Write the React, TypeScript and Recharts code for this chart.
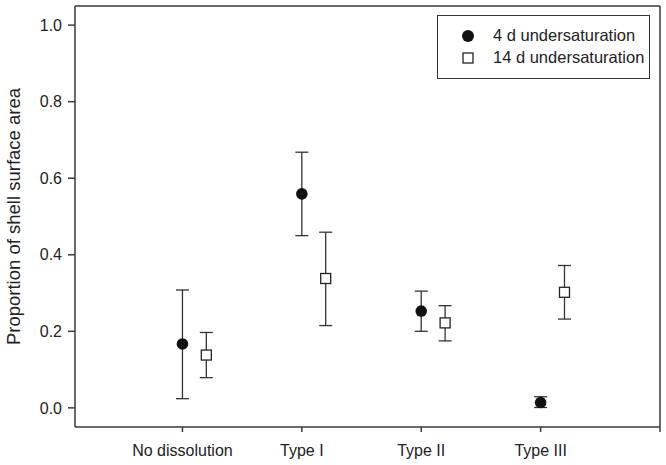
import React from 'react';
import {
  ScatterChart, Scatter, XAxis, YAxis, ErrorBar, ReferenceLine, Legend,
} from 'recharts';

const categories = ['No dissolution', 'Type I', 'Type II', 'Type III'];
const positions4d = [1, 2, 3, 4];
const positions14d = [1.2, 2.2, 3.2, 4.2];

const mean4d = [0.167, 0.559, 0.253, 0.014];
const low4d = [0.024, 0.450, 0.200, 0.001];
const high4d = [0.308, 0.668, 0.305, 0.029];

const mean14d = [0.138, 0.338, 0.222, 0.302];
const low14d = [0.079, 0.215, 0.175, 0.232];
const high14d = [0.197, 0.459, 0.267, 0.372];

const yTicks = [0, 0.2, 0.4, 0.6, 0.8, 1.0];
const xTicks = [1, 2, 3, 4, 5];

const seriesNames = ['4 d undersaturation', '14 d undersaturation'];

const build = (xs: number[], m: number[], lo: number[], hi: number[]) =>
  xs.map((x, i) => ({ x, y: m[i], err: [m[i] - lo[i], hi[i] - m[i]] }));

const data4d = build(positions4d, mean4d, low4d, high4d);
const data14d = build(positions14d, mean14d, low14d, high14d);

const FONT = '"Liberation Sans", Arial, sans-serif';
const AXIS = '#3a3a3a';

const CircleShape = (props: any) => {
  const { cx, cy } = props;
  if (cx == null || cy == null) return null;
  return <circle cx={cx} cy={cy} r={5.8} fill="#111" />;
};

const SquareShape = (props: any) => {
  const { cx, cy } = props;
  if (cx == null || cy == null) return null;
  return <rect x={cx - 5} y={cy - 5} width={10} height={10} fill="#fff" stroke="#222" strokeWidth={1.3} />;
};

const LegendBox = () => (
  <div
    style={{
      width: 211,
      height: 62,
      border: '1px solid #333',
      background: '#fff',
      fontFamily: FONT,
      fontSize: 16.5,
      color: '#222',
      boxSizing: 'content-box',
    }}
  >
    <div style={{ position: 'relative', height: 62 }}>
      <svg width={20} height={62} style={{ position: 'absolute', left: 20, top: 0 }}>
        <circle cx={10} cy={20} r={6} fill="#111" />
        <rect x={5} y={37} width={10} height={10} fill="#fff" stroke="#222" strokeWidth={1.3} />
      </svg>
      <div style={{ position: 'absolute', left: 55, top: 10, lineHeight: '19px', whiteSpace: 'nowrap' }}>{seriesNames[0]}</div>
      <div style={{ position: 'absolute', left: 55, top: 32, lineHeight: '19px', whiteSpace: 'nowrap' }}>{seriesNames[1]}</div>
    </div>
  </div>
);

export default function App() {
  return (
    <div style={{ position: 'absolute', left: 0, top: 0, width: 666, height: 465, background: '#fff' }}>
      <ScatterChart width={666} height={465} margin={{ top: 6, right: 6, bottom: 0, left: 0 }}>
        <XAxis
          type="number"
          dataKey="x"
          domain={[0.1, 5]}
          ticks={xTicks}
          allowDataOverflow
          height={38}
          tickSize={5}
          tickMargin={13}
          tickFormatter={(v: number) => categories[v - 1] ?? ''}
          stroke={AXIS}
          strokeWidth={1.5}
          tick={{ fill: '#222', fontSize: 16, fontFamily: FONT }}
        />
        <YAxis
          type="number"
          dataKey="y"
          domain={[-0.05, 1.05]}
          ticks={yTicks}
          allowDataOverflow
          width={75}
          tickSize={7}
          tickMargin={6}
          tickFormatter={(v: number) => v.toFixed(1)}
          stroke={AXIS}
          strokeWidth={1.5}
          tick={{ fill: '#222', fontSize: 16, fontFamily: FONT }}
          label={{
            value: 'Proportion of shell surface area',
            angle: -90,
            position: 'center',
            dx: -24,
            style: { fill: '#222', fontSize: 18.5, fontFamily: FONT, textAnchor: 'middle' },
          }}
        />
        <ReferenceLine y={1.05} stroke={AXIS} strokeWidth={1.5} />
        <ReferenceLine x={5} stroke={AXIS} strokeWidth={1.5} />
        <Scatter name={seriesNames[0]} data={data4d} shape={CircleShape} isAnimationActive={false}>
          <ErrorBar dataKey="err" direction="y" width={6.5} stroke="#333" strokeWidth={1.3} isAnimationActive={false} />
        </Scatter>
        <Scatter name={seriesNames[1]} data={data14d} shape={SquareShape} isAnimationActive={false}>
          <ErrorBar dataKey="err" direction="y" width={6.5} stroke="#333" strokeWidth={1.3} isAnimationActive={false} />
        </Scatter>
        <Legend
          layout="vertical"
          align="center"
          verticalAlign="middle"
          content={() => <LegendBox />}
          wrapperStyle={{ position: 'absolute', left: 437, top: 15, width: 213, height: 64 }}
        />
      </ScatterChart>
    </div>
  );
}
